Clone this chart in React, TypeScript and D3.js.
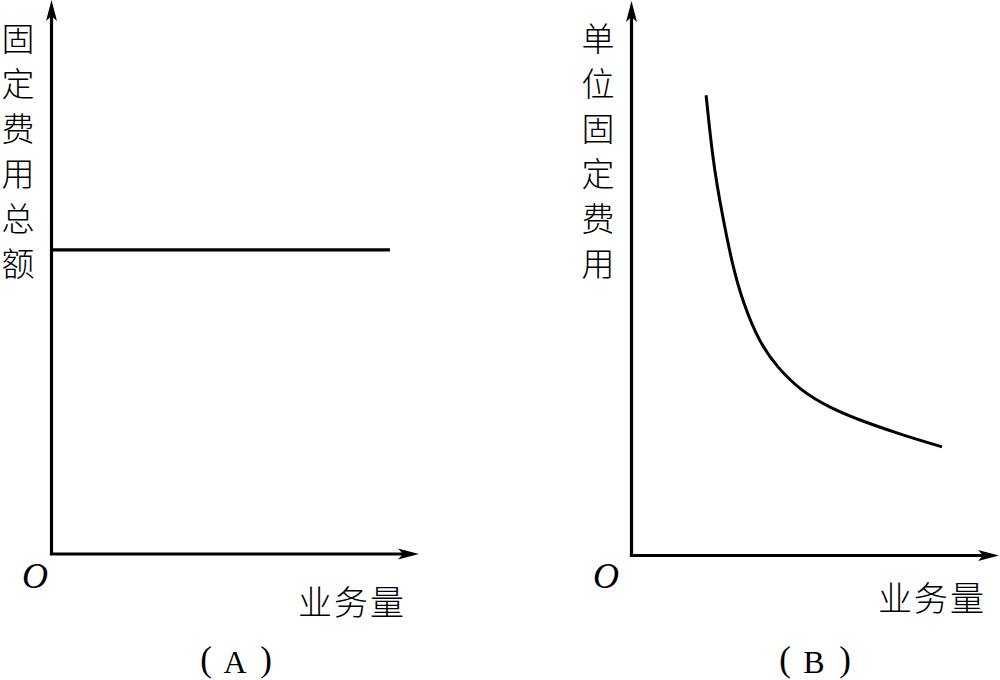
import React from "react";
import * as d3 from "d3";

// Panel A: total fixed cost (constant)
const fixedTotalX = [0, 92.1];
const fixedTotalY = [54.9, 54.9];

// Panel B: unit fixed cost vs volume
const unitX = [20.3, 22.2, 24.6, 27.3, 30.3, 34.9, 39.6, 45.9, 54.0, 64.1, 73.9, 84.5];
const unitY = [83.0, 70.8, 61.8, 52.8, 45.6, 38.3, 34.0, 29.8, 26.6, 23.9, 21.7, 19.6];

const yLabelA = ["固", "定", "费", "用", "总", "额"];
const yLabelB = ["单", "位", "固", "定", "费", "用"];
const xLabel = "业务量";
const originLabel = "O";
const panelTags = ["A", "B"];

const CJK = "'Noto Sans CJK SC', sans-serif";
const SERIF = "'Liberation Serif', 'DejaVu Serif', serif";

function Arrow({ x, y, dir }: { x: number; y: number; dir: "up" | "right" }) {
  const d = "M0,0 L-5.5,21 L0,16 L5.5,21 Z";
  const rot = dir === "up" ? 0 : 90;
  return <path d={d} transform={`translate(${x},${y}) rotate(${rot})`} fill="#000" />;
}

function Panel({
  x0, x1, y0, y1, labels, tag, labelX, xLabelPos, oPos, tagX, children,
}: any) {
  return (
    <g>
      <line x1={x0} y1={y0} x2={x0} y2={y1 + 12} stroke="#000" strokeWidth={3.2} />
      <line x1={x0 - 1.6} y1={y0} x2={x1 - 12} y2={y0} stroke="#000" strokeWidth={3.2} />
      <Arrow x={x0} y={y1} dir="up" />
      <Arrow x={x1} y={y0} dir="right" />
      {labels.map((c: string, i: number) => (
        <text key={i} x={labelX} y={37 + i * 45} fontFamily={CJK} fontSize={33} fontWeight={300}
          textAnchor="middle" dominantBaseline="central" fill="#000">{c}</text>
      ))}
      <text x={oPos[0]} y={oPos[1]} fontFamily={SERIF} fontStyle="italic" fontSize={36}
        textAnchor="middle" dominantBaseline="central" fill="#000">{originLabel}</text>
      <text x={xLabelPos[0]} y={xLabelPos[1]} fontFamily={CJK} fontSize={34} fontWeight={300} letterSpacing={2}
        textAnchor="middle" dominantBaseline="central" fill="#000">{xLabel}</text>
      <text x={tagX - 29} y={671} fontFamily={SERIF} fontSize={35} textAnchor="middle" fill="#000">(</text>
      <text x={tagX} y={673} fontFamily={SERIF} fontSize={32} textAnchor="middle" fill="#000">{tag}</text>
      <text x={tagX + 31} y={671} fontFamily={SERIF} fontSize={35} textAnchor="middle" fill="#000">)</text>
      {children}
    </g>
  );
}

export default function App() {
  const xA = d3.scaleLinear().domain([0, 100]).range([51.5, 419]);
  const yA = d3.scaleLinear().domain([0, 100]).range([554, 0]);
  const xB = d3.scaleLinear().domain([0, 100]).range([631.5, 999]);
  const yB = d3.scaleLinear().domain([0, 100]).range([555.5, 1]);

  const lineA = d3.line<number>().x((_, i) => xA(fixedTotalX[i])).y((d) => yA(d));
  const lineB = d3
    .line<number>()
    .x((_, i) => xB(unitX[i]))
    .y((d) => yB(d))
    .curve(d3.curveBasis);

  return (
    <svg width={1000} height={680} style={{ position: "absolute", left: 0, top: 0, background: "#fff" }}>
      <rect width={1000} height={680} fill="#fff" />
      <Panel x0={xA(0)} x1={xA(100)} y0={yA(0)} y1={yA(100)} labels={yLabelA} tag={panelTags[0]}
        labelX={18} xLabelPos={[352, 600]} oPos={[35, 576]} tagX={235}>
        <path d={lineA(fixedTotalY) || ""} fill="none" stroke="#000" strokeWidth={3.2} />
      </Panel>
      <Panel x0={xB(0)} x1={xB(100)} y0={yB(0)} y1={yB(100)} labels={yLabelB} tag={panelTags[1]}
        labelX={598} xLabelPos={[932, 596]} oPos={[606, 576]} tagX={814}>
        <path d={lineB(unitY) || ""} fill="none" stroke="#000" strokeWidth={3} />
      </Panel>
    </svg>
  );
}
